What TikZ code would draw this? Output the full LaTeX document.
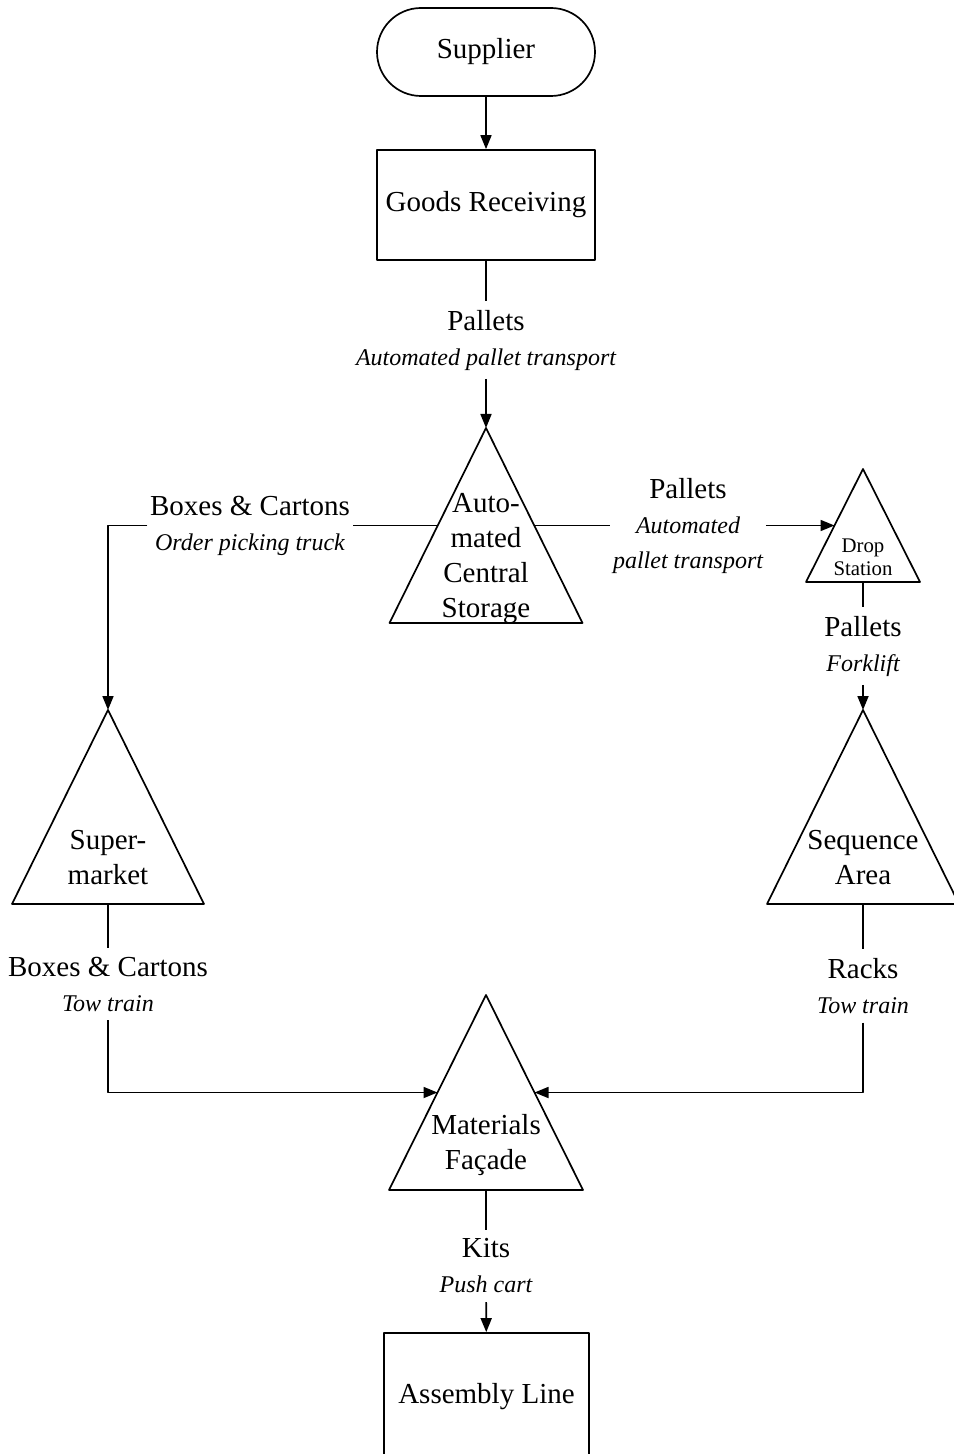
\documentclass[tikz,border=0pt]{standalone}
\usepackage{fontspec}
\setmainfont{Liberation Serif}
\usetikzlibrary{arrows.meta}
\newcommand\carrier[1]{{\fontsize{12}{17.5}\selectfont\itshape #1}}
\begin{document}
\begin{tikzpicture}[x=0.5pt,y=-0.5pt,line width=0.85pt,line join=round,>={Triangle[length=7pt,width=5.5pt]}]
	\tikzset{every node/.style={font=\fontsize{14.5}{17.5}\selectfont},
		box/.style={draw,minimum width=109pt,minimum height=55pt},
		lbl/.style={align=center,inner xsep=1pt,inner ysep=4pt},
		tri/.style={align=center,inner sep=0pt}}
	\useasboundingbox (0,0) rectangle (953,1454);
	% start and end of the flow
	\node[box,rounded corners=22pt,minimum height=44pt] (sup) at (486,52) {Supplier};
	\node[box] (gr) at (486,205) {Goods Receiving};
	\node[box,minimum width=102.5pt,minimum height=64pt] (al) at (486.5,1397) {Assembly Line};
	% triangles: name/apex x/apex y/base/height
	\foreach \n/\cx/\ty/\w/\h in {acs/486/428/193/195,drop/863/469/114/113,smkt/108/710/192/194,seq/863/710/192/194,mf/486/995/194/195}{
		\draw (\cx,\ty) coordinate (\n-t) -- (\cx-\w/2,\ty+\h) -- (\cx+\w/2,\ty+\h) -- cycle;
		\coordinate (\n-w) at (\cx-\w/4,\ty+\h/2);
		\coordinate (\n-e) at (\cx+\w/4,\ty+\h/2);
		\coordinate (\n-b) at (\cx,\ty+\h);
	}
	\node[tri] (acs) at (486,559) {Auto-\\mated\\Central\\Storage};
	\node[tri,font=\fontsize{10.4}{11.5}\selectfont] (drop) at (863,557) {Drop\\Station};
	\node[tri] (smkt) at (108,858) {Super-\\market};
	\node[tri] (seq) at (863,858) {Sequence\\Area};
	\node[tri] (mf) at (486,1145) {Materials\\Façade};
	% labels on the connectors
	\node[lbl] (l1) at (486,340) {Pallets\\\carrier{Automated pallet transport}};
	\node[lbl] (l2) at (250,525.5) {Boxes \& Cartons\\\carrier{Order picking truck}};
	\node[lbl] (l3) at (688,525.5) {Pallets\\\carrier{Automated}\\\carrier{pallet transport}};
	\node[lbl] (l4) at (863,646) {Pallets\\\carrier{Forklift}};
	\node[lbl] (l5) at (108,984) {Boxes \& Cartons\\\carrier{Tow train}};
	\node[lbl] (l6) at (863,986) {Racks\\\carrier{Tow train}};
	\node[lbl] (l7) at (486,1266) {Kits\\\carrier{Push cart}};
	% connectors
	\draw[->] (sup) -- (gr);
	\draw (gr) -- (l1);
	\draw[->] (l1) -- (acs-t);
	\draw (acs-w) -- (l2);
	\draw[->] (l2) -| (smkt-t);
	\draw (acs-e) -- (l3);
	\draw[->] (l3) -- (drop-w);
	\draw (drop-b) -- (l4);
	\draw[->] (l4) -- (seq-t);
	\draw (smkt-b) -- (l5);
	\draw[->] (l5) |- (mf-w);
	\draw (seq-b) -- (l6);
	\draw[->] (l6) |- (mf-e);
	\draw (mf-b) -- (l7);
	\draw[->] (l7) -- (al);
\end{tikzpicture}
\end{document}
